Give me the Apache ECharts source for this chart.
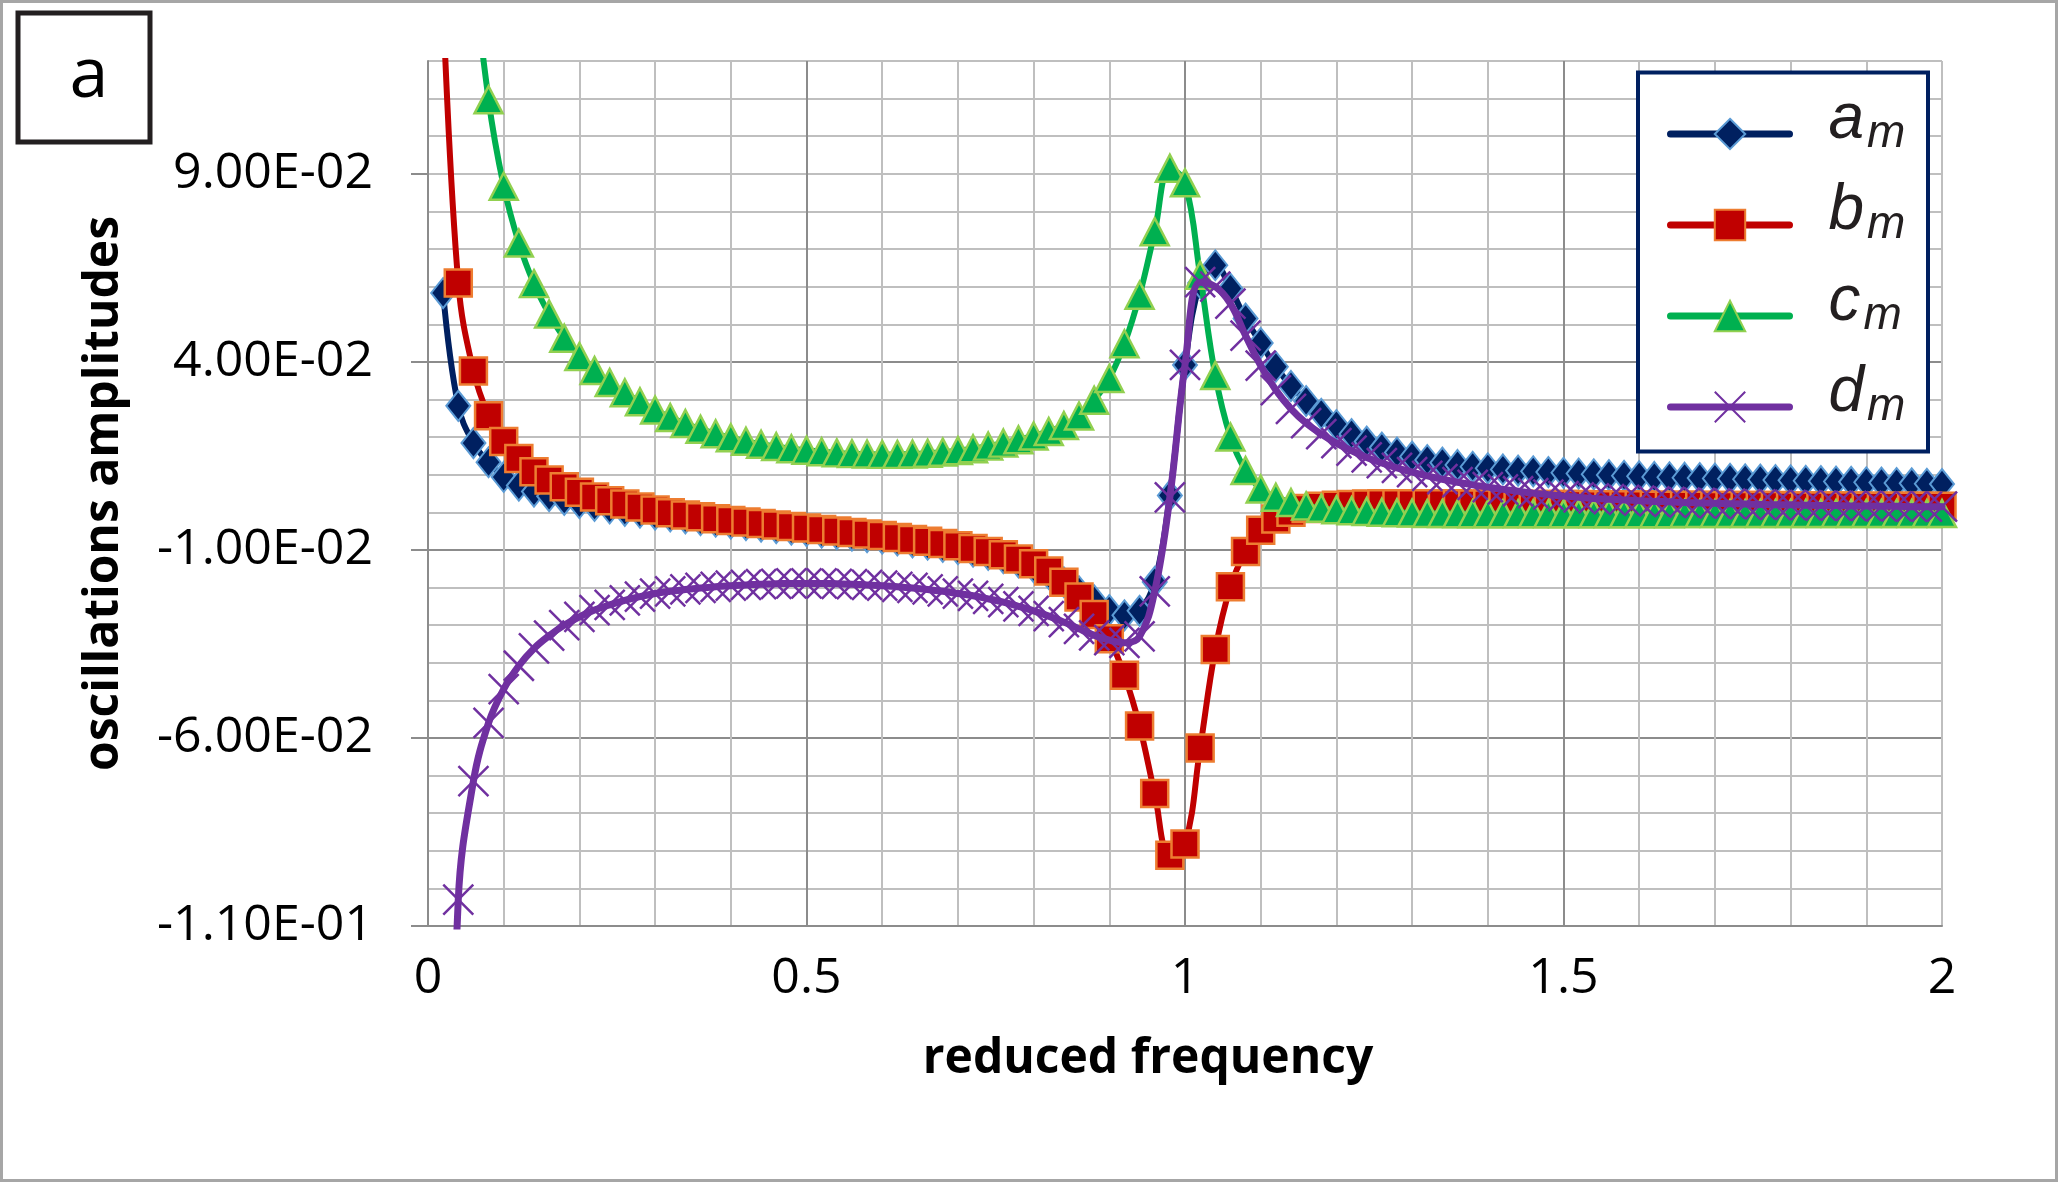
<!DOCTYPE html>
<html><head><meta charset="utf-8">
<script src="https://cdn.jsdelivr.net/npm/echarts@6/dist/echarts.min.js"></script>
<style>html,body{margin:0;padding:0;background:#fff}#chart{width:2058px;height:1182px}</style>
</head><body><div id="chart"></div>
<script>
const freq = [0.02,0.04,0.06,0.08,0.1,0.12,0.14,0.16,0.18,0.2,
0.22,0.24,0.26,0.28,0.3,0.32,0.34,0.36,0.38,0.4,
0.42,0.44,0.46,0.48,0.5,0.52,0.54,0.56,0.58,0.6,
0.62,0.64,0.66,0.68,0.7,0.72,0.74,0.76,0.78,0.8,
0.82,0.84,0.86,0.88,0.9,0.92,0.94,0.96,0.98,1,
1.02,1.04,1.06,1.08,1.1,1.12,1.14,1.16,1.18,1.2,
1.22,1.24,1.26,1.28,1.3,1.32,1.34,1.36,1.38,1.4,
1.42,1.44,1.46,1.48,1.5,1.52,1.54,1.56,1.58,1.6,
1.62,1.64,1.66,1.68,1.7,1.72,1.74,1.76,1.78,1.8,
1.82,1.84,1.86,1.88,1.9,1.92,1.94,1.96,1.98,2];

const am = [0.0583,0.0283,0.0184,0.0133,0.0094,0.0071,0.0055,0.0043,0.0033,0.0024,
0.0017,0.0010,0.0004,-0.0001,-0.0006,-0.0011,-0.0016,-0.0021,-0.0025,-0.0030,
-0.0034,-0.0038,-0.0042,-0.0046,-0.0050,-0.0054,-0.0058,-0.0062,-0.0066,-0.0070,
-0.0075,-0.0080,-0.0086,-0.0092,-0.0098,-0.0105,-0.0113,-0.0122,-0.0133,-0.0146,
-0.0164,-0.0186,-0.0210,-0.0234,-0.0260,-0.0274,-0.0262,-0.0185,0.0045,0.0392,
0.0610,0.0657,0.0595,0.0515,0.0450,0.0387,0.0336,0.0296,0.0262,0.0232,
0.0208,0.0188,0.0172,0.0159,0.0148,0.0139,0.0132,0.0126,0.0121,0.0117,
0.0114,0.0111,0.0109,0.0107,0.0105,0.0103,0.0101,0.0099,0.0097,0.0096,
0.0094,0.0093,0.0092,0.0091,0.0090,0.0089,0.0088,0.0087,0.0086,0.0085,
0.0084,0.0083,0.0082,0.0081,0.0080,0.0079,0.0078,0.0077,0.0076,0.0075];

const bm = [0.1350,0.0610,0.0376,0.0257,0.0188,0.0143,0.0108,0.0086,0.0068,0.0053,
0.0041,0.0031,0.0022,0.0014,0.0006,-0.0001,-0.0007,-0.0012,-0.0017,-0.0022,
-0.0026,-0.0030,-0.0034,-0.0038,-0.0042,-0.0046,-0.0050,-0.0054,-0.0058,-0.0062,
-0.0067,-0.0072,-0.0077,-0.0083,-0.0089,-0.0096,-0.0104,-0.0113,-0.0124,-0.0137,
-0.0156,-0.0186,-0.0225,-0.0272,-0.0336,-0.0433,-0.0568,-0.0748,-0.0912,-0.0882,
-0.0627,-0.0365,-0.0198,-0.0104,-0.0048,-0.0018,0.0000,0.0010,0.0016,0.0019,
0.0021,0.0022,0.0023,0.0023,0.0023,0.0023,0.0023,0.0023,0.0022,0.0022,
0.0022,0.0022,0.0021,0.0021,0.0021,0.0021,0.0020,0.0020,0.0020,0.0020,
0.0019,0.0019,0.0019,0.0019,0.0018,0.0018,0.0018,0.0018,0.0018,0.0017,
0.0017,0.0017,0.0017,0.0017,0.0016,0.0016,0.0016,0.0016,0.0016,0.0016];

const cm = [0.4500,0.2250,0.1480,0.1097,0.0867,0.0716,0.0608,0.0527,0.0463,0.0414,
0.0377,0.0345,0.0318,0.0294,0.0272,0.0252,0.0236,0.0221,0.0209,0.0198,
0.0189,0.0181,0.0175,0.0169,0.0165,0.0161,0.0158,0.0156,0.0155,0.0154,
0.0154,0.0155,0.0157,0.0160,0.0164,0.0169,0.0176,0.0184,0.0193,0.0203,
0.0215,0.0231,0.0256,0.0298,0.0356,0.0448,0.0577,0.0746,0.0915,0.0876,
0.0630,0.0364,0.0200,0.0111,0.0062,0.0040,0.0026,0.0017,0.0011,0.0007,
0.0004,0.0002,0.0000,-0.0001,-0.0002,-0.0003,-0.0003,-0.0004,-0.0004,-0.0004,
-0.0004,-0.0004,-0.0004,-0.0004,-0.0004,-0.0004,-0.0004,-0.0004,-0.0004,-0.0004,
-0.0004,-0.0004,-0.0003,-0.0003,-0.0003,-0.0003,-0.0003,-0.0003,-0.0003,-0.0003,
-0.0003,-0.0003,-0.0003,-0.0003,-0.0003,-0.0003,-0.0003,-0.0003,-0.0003,-0.0003];

const dm = [-0.2500,-0.1030,-0.0715,-0.0560,-0.0470,-0.0408,-0.0362,-0.0328,-0.0300,-0.0278,
-0.0260,-0.0246,-0.0234,-0.0224,-0.0216,-0.0210,-0.0205,-0.0201,-0.0198,-0.0195,
-0.0193,-0.0191,-0.0190,-0.0189,-0.0189,-0.0189,-0.0190,-0.0191,-0.0193,-0.0195,
-0.0198,-0.0201,-0.0205,-0.0210,-0.0216,-0.0222,-0.0230,-0.0239,-0.0250,-0.0262,
-0.0276,-0.0292,-0.0310,-0.0327,-0.0340,-0.0347,-0.0330,-0.0210,0.0040,0.0392,
0.0612,0.0600,0.0555,0.0470,0.0390,0.0325,0.0275,0.0237,0.0208,0.0184,
0.0164,0.0146,0.0131,0.0118,0.0107,0.0097,0.0088,0.0080,0.0073,0.0067,
0.0061,0.0056,0.0051,0.0047,0.0043,0.0040,0.0037,0.0035,0.0033,0.0031,
0.0029,0.0028,0.0026,0.0025,0.0024,0.0023,0.0022,0.0021,0.0020,0.0020,
0.0019,0.0018,0.0018,0.0017,0.0017,0.0016,0.0016,0.0015,0.0015,0.0015];

const seriesNames = ['a', 'b', 'c', 'd'];
const yTickValues = [-0.11, -0.06, -0.01, 0.04, 0.09];
const xTickValues = [0, 0.5, 1, 1.5, 2];
const xTitle = 'reduced frequency';
const yTitle = 'oscillations amplitudes';
const panelLabel = 'a';

function pairs(ys) { return freq.map((x, i) => [x, ys[i]]); }
function sci(v) {
  const s = Number(v).toExponential(2);
  const parts = s.split('e');
  let e = parts[1];
  const sign = e[0] === '-' ? '-' : '+';
  e = e.replace(/^[+-]/, '');
  if (e.length < 2) e = '0' + e;
  return parts[0] + 'E' + sign + e;
}

const LIGHT = '#BFBFBF', DARK = '#8C8C8C';
const FONT = 'Open Sans';

const chart = echarts.init(document.getElementById('chart'), null, {renderer: 'canvas'});
const common = {type: 'line', smooth: 0.4, animation: false, clip: true, emphasis: {disabled: true}, xAxisIndex: 0, yAxisIndex: 0};

chart.setOption({
  backgroundColor: '#ffffff',
  animation: false,
  grid: {left: 428, right: 116, top: 61, bottom: 256, outerBoundsMode: 'none', containLabel: false},
  xAxis: [
    {type: 'value', min: 0, max: 2, interval: 0.1, position: 'bottom',
     axisLine: {show: true, onZero: false, lineStyle: {color: DARK, width: 2}},
     axisTick: {show: false}, axisLabel: {show: false},
     splitLine: {show: true, lineStyle: {color: LIGHT, width: 2}}},
    {type: 'value', min: 0, max: 2, interval: 0.5, position: 'bottom',
     axisLine: {show: false, onZero: false}, axisTick: {show: false},
     axisLabel: {show: true, customValues: xTickValues, margin: 28, fontFamily: FONT, fontSize: 50, color: '#000'},
     splitLine: {show: true, showMaxLine: false, lineStyle: {color: DARK, width: 2}},
     name: xTitle, nameLocation: 'middle', nameGap: 109, nameMoveOverlap: false,
     nameTextStyle: {fontFamily: FONT, fontWeight: 'bold', fontSize: 48, color: '#000', padding: [0, 74, 0, 0]}}
  ],
  yAxis: [
    {type: 'value', min: -0.11, max: 0.12, interval: 0.01, position: 'left',
     axisLine: {show: true, onZero: false, lineStyle: {color: DARK, width: 2}},
     axisTick: {show: false}, axisLabel: {show: false},
     splitLine: {show: true, lineStyle: {color: LIGHT, width: 2}}},
    {type: 'value', min: -0.11, max: 0.12, interval: 0.05, position: 'left',
     axisLine: {show: false, onZero: false},
     axisTick: {show: true, inside: false, length: 17, customValues: yTickValues, lineStyle: {color: DARK, width: 2}},
     axisLabel: {show: true, customValues: yTickValues, formatter: sci, margin: 55, fontFamily: FONT, fontSize: 50, color: '#000'},
     splitLine: {show: true, showMaxLine: false, lineStyle: {color: DARK, width: 2}},
     name: yTitle, nameLocation: 'middle', nameRotate: 90, nameGap: 300, nameMoveOverlap: false,
     nameTextStyle: {fontFamily: FONT, fontWeight: 'bold', fontSize: 48, color: '#000'}}
  ],
  legend: {
    show: true, orient: 'vertical', left: 1667, top: 88, z: 30,
    data: seriesNames, selectedMode: false,
    padding: 0, itemWidth: 119, itemHeight: 38, itemGap: -1,
    lineStyle: {width: 7, cap: 'round'},
    formatter: n => '{v|' + n + '}{s|m}',
    textStyle: {color: '#231F20', rich: {
      v: {fontFamily: 'Liberation Sans', fontStyle: 'italic', fontSize: 64, lineHeight: 42, padding: [0, 0, 28, 34], color: '#231F20'},
      s: {fontFamily: 'Liberation Sans', fontStyle: 'italic', fontSize: 46, lineHeight: 46, padding: [0, 0, 0, 3], color: '#231F20'}
    }}
  },
  graphic: [
    {type: 'rect', silent: true, z: 100, shape: {x: 1.5, y: 1.5, width: 2055, height: 1179}, style: {fill: 'none', stroke: '#A6A6A6', lineWidth: 3}},
    {type: 'rect', silent: true, z: 20, shape: {x: 1638, y: 72.5, width: 290, height: 379}, style: {fill: '#ffffff', stroke: '#002060', lineWidth: 4}},
    {type: 'rect', silent: true, z: 100, shape: {x: 18, y: 13, width: 132, height: 129}, style: {fill: '#ffffff', stroke: '#231F20', lineWidth: 5}},
    {type: 'text', silent: true, z: 101, x: 89, y: 77, style: {text: panelLabel, fontFamily: FONT, fontSize: 70, fill: '#000', align: 'center', verticalAlign: 'middle'}}
  ],
  series: [
    Object.assign({}, common, {name: seriesNames[0], z: 2, data: pairs(am), symbol: 'diamond', symbolSize: [24, 30],
      lineStyle: {color: '#002060', width: 6, cap: 'round'},
      itemStyle: {color: '#002060', borderColor: '#5B9BD5', borderWidth: 2}}),
    Object.assign({}, common, {name: seriesNames[1], z: 3, data: pairs(bm), symbol: 'rect', symbolSize: 27,
      lineStyle: {color: '#C00000', width: 6, cap: 'round'},
      itemStyle: {color: '#C00000', borderColor: '#ED7D31', borderWidth: 2.5}}),
    Object.assign({}, common, {name: seriesNames[2], z: 4, data: pairs(cm), symbol: 'triangle', symbolSize: [28, 27],
      lineStyle: {color: '#00B050', width: 6, cap: 'round'},
      itemStyle: {color: '#00B050', borderColor: '#92D050', borderWidth: 2.5}}),
    Object.assign({}, common, {name: seriesNames[3], z: 5, data: pairs(dm), symbol: 'path://M0,0L20,20M20,0L0,20', symbolSize: 30,
      lineStyle: {color: '#7030A0', width: 7, cap: 'round'},
      itemStyle: {color: '#7030A0', borderColor: '#7030A0', borderWidth: 2.5}})
  ]
});
</script>
</body></html>
